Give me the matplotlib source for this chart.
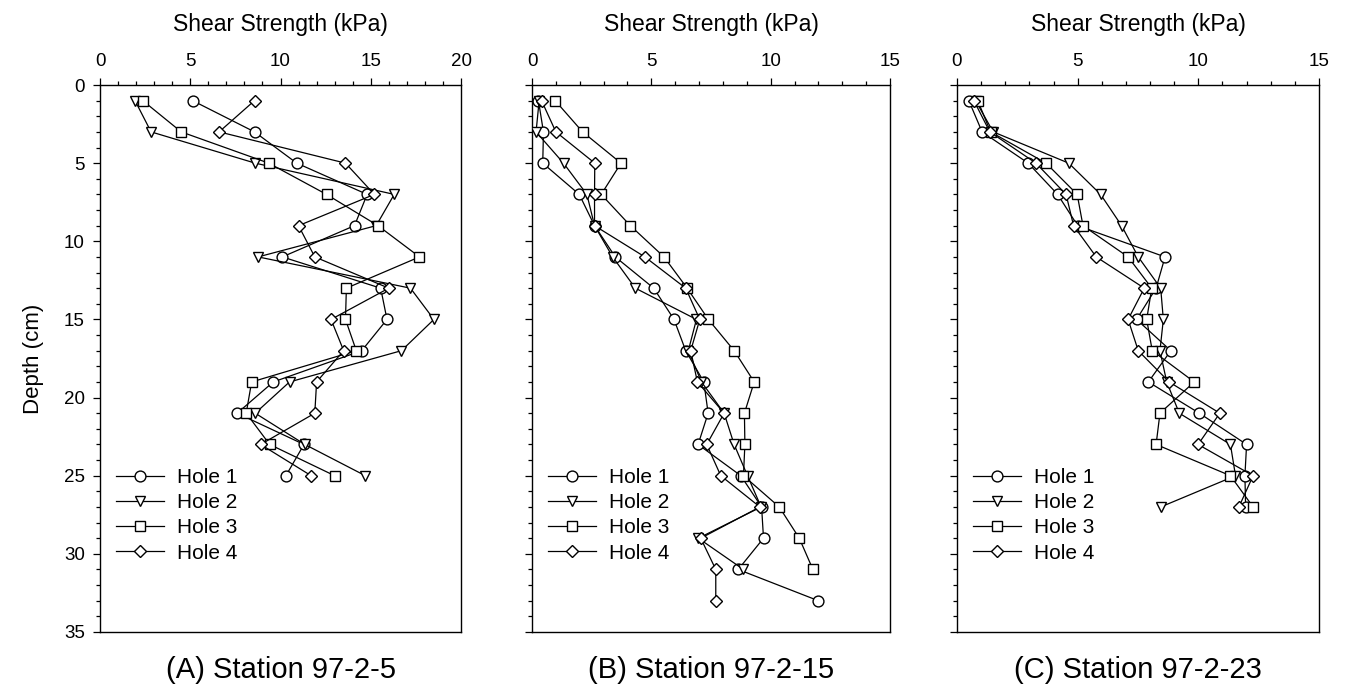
import matplotlib
matplotlib.use("Agg")
import matplotlib.pyplot as plt
from matplotlib.ticker import MultipleLocator

plt.rcParams['font.family'] = ['Liberation Sans', 'DejaVu Sans']

# ---------------- data ----------------
hole_labels = ["Hole 1", "Hole 2", "Hole 3", "Hole 4"]

depth_a = [1, 3, 5, 7, 9, 11, 13, 15, 17, 19, 21, 23, 25]
a_hole1 = [5.13, 8.56, 10.9, 14.8, 14.1, 10.1, 15.55, 15.9, 14.5, 9.6, 7.6, 11.3, 10.3]
a_hole2 = [1.94, 2.83, 8.6, 16.3, 15.3, 8.76, 17.2, 18.5, 16.7, 10.5, 8.6, 11.35, 14.7]
a_hole3 = [2.37, 4.5, 9.35, 12.55, 15.4, 17.7, 13.65, 13.6, 14.2, 8.4, 8.1, 9.4, 13.0]
a_hole4 = [8.56, 6.6, 13.6, 15.2, 11.0, 11.9, 16.0, 12.8, 13.5, 12.0, 11.9, 8.9, 11.7]

depth_b = [1, 3, 5, 7, 9, 11, 13, 15, 17, 19, 21, 23, 25, 27, 29, 31, 33]
b_hole1 = [0.27, 0.48, 0.45, 1.98, 2.62, 3.49, 5.1, 5.95, 6.44, 7.2, 7.38, 6.96, 8.75, 9.62, 9.7, 8.64, 12.0]
b_hole2 = [0.3, 0.17, 1.32, 2.3, 2.62, 3.38, 4.33, 6.89, 6.55, 7.1, 8.05, 8.47, 9.03, 9.6, 6.97, 8.86]
b_hole3 = [0.97, 2.12, 3.73, 2.9, 4.12, 5.53, 6.5, 7.39, 8.47, 9.31, 8.9, 8.92, 8.86, 10.36, 11.2, 11.77]
b_hole4 = [0.4, 1.0, 2.63, 2.62, 2.62, 4.73, 6.44, 7.03, 6.65, 6.93, 8.05, 7.32, 7.91, 9.55, 7.07, 7.7, 7.7]

depth_c = [1, 3, 5, 7, 9, 11, 13, 15, 17, 19, 21, 23, 25, 27]
c_hole1 = [0.49, 1.04, 2.95, 4.17, 5.0, 8.62, 8.25, 7.44, 8.86, 7.93, 10.04, 12.0, 11.93, 11.96]
c_hole2 = [0.77, 1.5, 4.63, 5.95, 6.82, 7.51, 8.44, 8.55, 8.41, 8.69, 9.21, 11.33, 11.54, 8.44]
c_hole3 = [0.86, 1.39, 3.69, 4.98, 5.22, 7.09, 8.07, 7.86, 8.09, 9.83, 8.41, 8.25, 11.33, 12.27]
c_hole4 = [0.7, 1.36, 3.27, 4.52, 4.83, 5.77, 7.76, 7.09, 7.51, 8.79, 10.89, 9.99, 12.27, 11.68]

panel_titles = ["(A) Station 97-2-5", "(B) Station 97-2-15", "(C) Station 97-2-23"]
x_max = [20, 15, 15]

panels = [
    (depth_a, [a_hole1, a_hole2, a_hole3, a_hole4]),
    (depth_b, [b_hole1, b_hole2, b_hole3, b_hole4]),
    (depth_c, [c_hole1, c_hole2, c_hole3, c_hole4]),
]

# ---------------- style ----------------
markers = ['o', 'v', 's', 'D']
msizes = [7.8, 7.8, 7.0, 6.5]

W, H = 1346, 691
fig = plt.figure(figsize=(W / 100, H / 100), dpi=100)

left_px = [100, 532, 957]
right_px = [461, 890, 1319]
top_px, bot_px = 85, 632

for i, (depths, holes) in enumerate(panels):
    l = left_px[i] / W
    w = (right_px[i] - left_px[i]) / W
    b = 1 - bot_px / H
    h = (bot_px - top_px) / H
    ax = fig.add_axes([l, b, w, h])
    for j, vals in enumerate(holes):
        d = depths[:len(vals)]
        ax.plot(vals, d, color='black', lw=0.9, marker=markers[j],
                ms=msizes[j], mfc='white', mec='black', mew=1.0,
                label=hole_labels[j], zorder=3 + j)
    ax.set_xlim(0, x_max[i])
    ax.set_ylim(35, 0)
    ax.xaxis.tick_top()
    ax.xaxis.set_label_position('top')
    ax.xaxis.set_major_locator(MultipleLocator(5))
    ax.xaxis.set_minor_locator(MultipleLocator(1))
    ax.yaxis.set_major_locator(MultipleLocator(5))
    ax.yaxis.set_minor_locator(MultipleLocator(1))
    ax.tick_params(axis='both', which='both', direction='out', width=0.9,
                   top=True, bottom=False, left=True, right=False,
                   labelsize=13.5, pad=6)
    ax.tick_params(axis='both', which='major', length=5)
    ax.tick_params(axis='both', which='minor', length=3)
    if i > 0:
        ax.tick_params(axis='y', labelleft=False)
    else:
        ax.set_ylabel('Depth (cm)', fontsize=16, labelpad=14)
    for s in ax.spines.values():
        s.set_linewidth(1.0)
    ax.set_xlabel('Shear Strength (kPa)', fontsize=16.5, labelpad=16)
    ax.legend(loc='upper left', bbox_to_anchor=(0.045, 0.30),
              frameon=False, fontsize=15, handlelength=2.3,
              handletextpad=0.6, labelspacing=0.3, borderpad=0,
              borderaxespad=0, numpoints=1)
    fig.text(l + w / 2, 1 - 670 / H, panel_titles[i], ha='center',
             va='center', fontsize=21)

fig.savefig('out.png', dpi=100)
